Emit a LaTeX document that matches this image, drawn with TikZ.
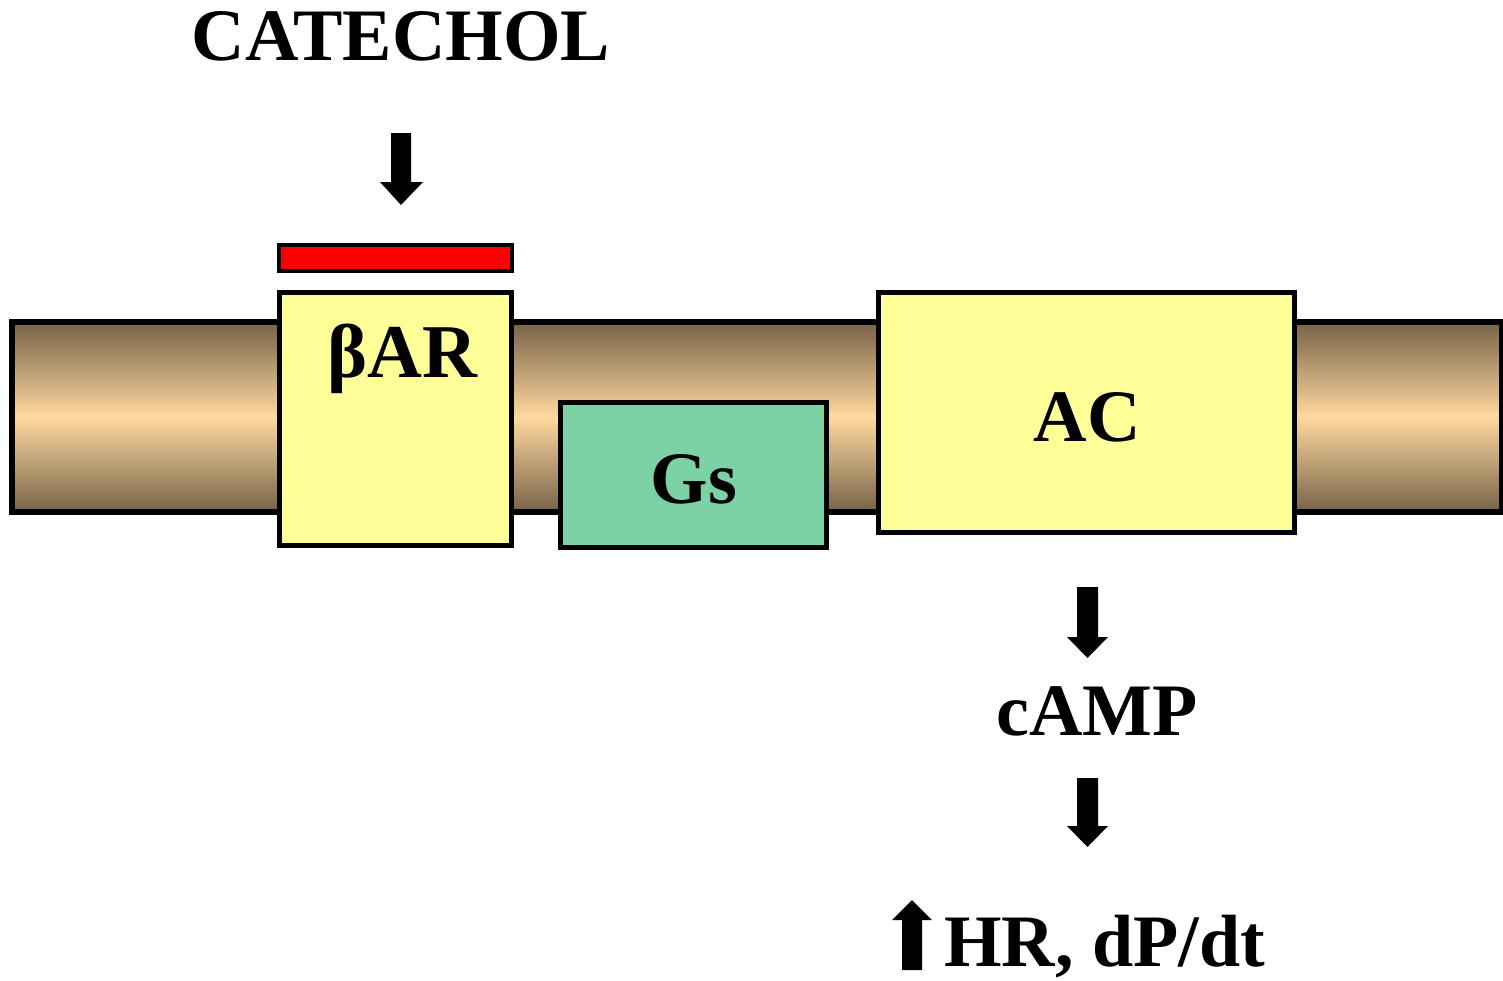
\documentclass[tikz,border=0pt]{standalone}
\usepackage{fontspec}
\setmainfont{Liberation Serif}
\definecolor{memdark}{RGB}{118,98,70}
\definecolor{memlight}{RGB}{255,217,160}
\definecolor{boxyellow}{RGB}{255,255,153}
\definecolor{gsgreen}{RGB}{125,210,165}
\definecolor{barred}{RGB}{255,0,0}
\tikzset{
  protein/.style={draw=black, line width=5pt, outer sep=0pt, inner sep=0pt, anchor=north west},
  lbl/.style={font=\fontsize{74}{80}\selectfont\bfseries, inner sep=0pt, anchor=base},
  blockarrow/.style={fill=black, draw=none},
}
\begin{document}
\begin{tikzpicture}[x=1pt,y=-1pt]
\useasboundingbox (0,0) rectangle (1503,980);
% membrane
\shade[top color=memdark, bottom color=memdark, middle color=memlight] (12,322) rectangle (1502,512);
\draw[line width=6pt] (12,322) rectangle (1502,512);
% boxes
\node[protein, fill=boxyellow, minimum width=232pt, minimum height=253pt] (bar) at (279.5,292.5) {};
\node[protein, fill=barred, line width=4pt, minimum width=233pt, minimum height=26pt] (red) at (279,245) {};
\node[protein, fill=gsgreen, minimum width=266pt, minimum height=145pt] (gs) at (560.5,402.5) {};
\node[protein, fill=boxyellow, minimum width=416pt, minimum height=240pt] (ac) at (878.5,292.5) {};
% labels
\node[lbl] (catechol) at (401,60) {CATECHOL};
\node[lbl, font=\fontsize{76}{80}\selectfont\bfseries] (bartxt) at (402,377) {βAR};
\node[lbl] (actxt) at (1087,441) {AC};
\node[lbl] (gstxt) at (694,503) {Gs};
\node[lbl] (camp) at (1097,735) {cAMP};
\node[lbl, anchor=base west] (hr) at (944,966) {HR, dP/dt};
% block arrows
\fill[blockarrow] (391,133) -- (411,133) -- (411,182) -- (423,182) -- (401,205) -- (380,182) -- (391,182) -- cycle;
\fill[blockarrow] (1077,587) -- (1098,587) -- (1098,637) -- (1108,637) -- (1087.5,658) -- (1067,637) -- (1077,637) -- cycle;
\fill[blockarrow] (1077,778) -- (1098,778) -- (1098,826) -- (1108,826) -- (1087.5,847) -- (1067,826) -- (1077,826) -- cycle;
\fill[blockarrow] (902,970) -- (922,970) -- (922,920) -- (932,920) -- (912,900) -- (892,920) -- (902,920) -- cycle;
\end{tikzpicture}
\end{document}
